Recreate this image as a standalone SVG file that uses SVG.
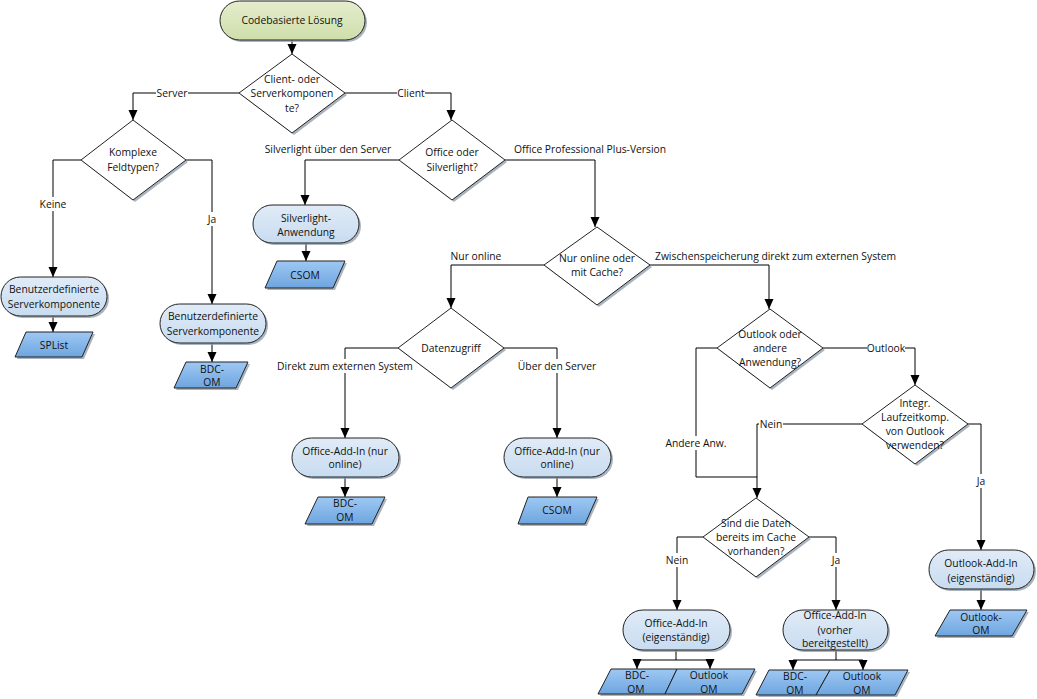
<svg xmlns="http://www.w3.org/2000/svg" width="1037" height="699" viewBox="0 0 1037 699">
<defs>
<linearGradient id="gGreen" x1="0" y1="0" x2="0" y2="1"><stop offset="0" stop-color="#e4edcd"/><stop offset="1" stop-color="#cfdeaa"/></linearGradient>
<linearGradient id="gBox" x1="0" y1="0" x2="0" y2="1"><stop offset="0" stop-color="#e0ebf7"/><stop offset="1" stop-color="#c8dcf0"/></linearGradient>
<linearGradient id="gPara" x1="0" y1="0" x2="0" y2="1"><stop offset="0" stop-color="#9ec8f3"/><stop offset="1" stop-color="#6ea5df"/></linearGradient>
<marker id="ah" viewBox="0 0 10 10" refX="10" refY="5" markerWidth="10" markerHeight="10" markerUnits="userSpaceOnUse" orient="auto"><path d="M0,0.5 L10,5 L0,9.5 z" fill="#000"/></marker>
</defs>
<style>
text{font-family:"Open Sans","Noto Sans","DejaVu Sans",sans-serif;font-size:10.3px;fill:#111;text-anchor:middle}
.st{text-anchor:start}
.bg{fill:#fff}
.c{fill:none;stroke:#000;stroke-width:1}
.ca{fill:none;stroke:#000;stroke-width:1;marker-end:url(#ah)}
.sh{fill:#8d9ba8;opacity:0.75}
.term{fill:url(#gGreen);stroke:#222;stroke-width:1}
.box{fill:url(#gBox);stroke:#222;stroke-width:1}
.para{fill:url(#gPara);stroke:#222;stroke-width:1}
.dia{fill:#fff;stroke:#222;stroke-width:1}
</style>
<rect width="1037" height="699" fill="#fff"/>

<g id="connectors">
<path class="ca" d="M292,40 V54"/>
<path class="ca" d="M239,93 H133 V120"/>
<path class="ca" d="M345,93 H451 V120"/>
<path class="ca" d="M81,160 H53 V277"/>
<path class="ca" d="M186,160 H212 V304"/>
<path class="ca" d="M53,316 V332"/>
<path class="ca" d="M212,343 V362"/>
<path class="ca" d="M399,160 H305 V205"/>
<path class="ca" d="M505,160 H595 V227"/>
<path class="ca" d="M306,243 V261"/>
<path class="ca" d="M544,265 H451 V308"/>
<path class="ca" d="M650,265 H769 V309"/>
<path class="ca" d="M398,348 H345 V438"/>
<path class="ca" d="M504,348 H557 V438"/>
<path class="ca" d="M345,477 V497"/>
<path class="ca" d="M557,477 V497"/>
<path class="ca" d="M823,348 H915 V385"/>
<path class="c" d="M717,348 H696 V477 H757"/>
<path class="ca" d="M862,424 H757 V498"/>
<path class="ca" d="M968,424 H981 V550"/>
<path class="ca" d="M703,537 H677 V610"/>
<path class="ca" d="M809,537 H836 V610"/>
<path class="c" d="M676,650 V660 M637,660 H710"/>
<path class="ca" d="M637,660 V669"/>
<path class="ca" d="M710,660 V669"/>
<path class="c" d="M836,650 V660 M793,660 H863"/>
<path class="ca" d="M793,660 V670"/>
<path class="ca" d="M863,660 V670"/>
<path class="ca" d="M981,589 V610"/>
<rect class="bg" x="156" y="86" width="32" height="14"/>
<text x="172" y="97">Server</text>
<rect class="bg" x="397" y="86" width="28" height="14"/>
<text x="411" y="97">Client</text>
<rect class="bg" x="39" y="197" width="28" height="14"/>
<text x="53" y="208">Keine</text>
<rect class="bg" x="206" y="212" width="12" height="14"/>
<text x="212" y="223">Ja</text>
<text x="328" y="153">Silverlight über den Server</text>
<text x="590" y="153">Office Professional Plus-Version</text>
<text x="476" y="260">Nur online</text>
<text class="st" x="655" y="260">Zwischenspeicherung direkt zum externen System</text>
<rect class="bg" x="278" y="359" width="134" height="14"/>
<text x="345" y="370">Direkt zum externen System</text>
<rect class="bg" x="518" y="359" width="78" height="14"/>
<text x="557" y="370">Über den Server</text>
<rect class="bg" x="867" y="341" width="38" height="14"/>
<text x="886" y="352">Outlook</text>
<rect class="bg" x="666" y="436" width="60" height="14"/>
<text x="696" y="447">Andere Anw.</text>
<rect class="bg" x="759" y="417" width="24" height="14"/>
<text x="771" y="428">Nein</text>
<rect class="bg" x="975" y="474" width="12" height="14"/>
<text x="981" y="485">Ja</text>
<rect class="bg" x="665" y="553" width="24" height="14"/>
<text x="677" y="564">Nein</text>
<rect class="bg" x="830" y="553" width="12" height="14"/>
<text x="836" y="564">Ja</text>
</g>

<g id="start">
<rect class="sh" x="222" y="3" width="145" height="39" rx="19.5"/>
<rect class="term" x="220" y="1" width="145" height="39" rx="19.5"/>
<text x="292" y="24">Codebasierte Lösung</text>
</g>

<g id="d-client-server">
<polygon class="sh" points="294,56 347,95 294,135 241,95"/>
<polygon class="dia" points="292,54 345,93 292,133 239,93"/>
<text x="292" y="83">Client- oder</text>
<text x="292" y="97">Serverkomponen</text>
<text x="292" y="112">te?</text>
</g>

<g id="d-komplexe">
<polygon class="sh" points="135,122 188,162 135,202 83,162"/>
<polygon class="dia" points="133,120 186,160 133,200 81,160"/>
<text x="133" y="156">Komplexe</text>
<text x="133" y="171">Feldtypen?</text>
</g>

<g id="box-benutzer1">
<rect class="sh" x="3" y="279" width="106" height="39" rx="19.5"/>
<rect class="box" x="1" y="277" width="106" height="39" rx="19.5"/>
<text x="54" y="293">Benutzerdefinierte</text>
<text x="54" y="308">Serverkomponente</text>
</g>

<g id="p-splist">
<polygon class="sh" points="28,334 95,334 84,359 17,359"/>
<polygon class="para" points="26,332 93,332 82,357 15,357"/>
<text x="54" y="349">SPList</text>
</g>

<g id="box-benutzer2">
<rect class="sh" x="162" y="306" width="106" height="39" rx="19.5"/>
<rect class="box" x="160" y="304" width="106" height="39" rx="19.5"/>
<text x="213" y="320">Benutzerdefinierte</text>
<text x="213" y="335">Serverkomponente</text>
</g>

<g id="p-bdc1">
<polygon class="sh" points="188,364 250,364 238,390 176,390"/>
<polygon class="para" points="186,362 248,362 236,388 174,388"/>
<text x="212" y="373">BDC-</text>
<text x="212" y="386">OM</text>
</g>

<g id="d-office-silverlight">
<polygon class="sh" points="454,122 507,162 454,202 401,162"/>
<polygon class="dia" points="452,120 505,160 452,200 399,160"/>
<text x="452" y="156">Office oder</text>
<text x="452" y="171">Silverlight?</text>
</g>

<g id="box-silverlight">
<rect class="sh" x="255" y="207" width="106" height="38" rx="19"/>
<rect class="box" x="253" y="205" width="106" height="38" rx="19"/>
<text x="306" y="222">Silverlight-</text>
<text x="306" y="236">Anwendung</text>
</g>

<g id="p-csom1">
<polygon class="sh" points="279,263 347,263 335,290 267,290"/>
<polygon class="para" points="277,261 345,261 333,288 265,288"/>
<text x="305" y="279">CSOM</text>
</g>

<g id="d-online-cache">
<polygon class="sh" points="599,229 652,267 599,307 546,267"/>
<polygon class="dia" points="597,227 650,265 597,305 544,265"/>
<text x="597" y="262">Nur online oder</text>
<text x="597" y="276">mit Cache?</text>
</g>

<g id="d-datenzugriff">
<polygon class="sh" points="453,310 506,350 453,390 400,350"/>
<polygon class="dia" points="451,308 504,348 451,388 398,348"/>
<text x="451" y="352">Datenzugriff</text>
</g>

<g id="box-online1">
<rect class="sh" x="294" y="440" width="107" height="39" rx="19.5"/>
<rect class="box" x="292" y="438" width="107" height="39" rx="19.5"/>
<text x="345" y="455">Office-Add-In (nur</text>
<text x="345" y="468">online)</text>
</g>

<g id="p-bdc2">
<polygon class="sh" points="320,499 387,499 374,526 307,526"/>
<polygon class="para" points="318,497 385,497 372,524 305,524"/>
<text x="345" y="507">BDC-</text>
<text x="345" y="521">OM</text>
</g>

<g id="box-online2">
<rect class="sh" x="506" y="440" width="107" height="39" rx="19.5"/>
<rect class="box" x="504" y="438" width="107" height="39" rx="19.5"/>
<text x="557" y="455">Office-Add-In (nur</text>
<text x="557" y="468">online)</text>
</g>

<g id="p-csom2">
<polygon class="sh" points="530,499 599,499 587,526 520,526"/>
<polygon class="para" points="528,497 597,497 585,524 518,524"/>
<text x="557" y="514">CSOM</text>
</g>

<g id="d-outlook-andere">
<polygon class="sh" points="772,311 825,350 772,390 719,350"/>
<polygon class="dia" points="770,309 823,348 770,388 717,348"/>
<text x="770" y="338">Outlook oder</text>
<text x="770" y="352">andere</text>
<text x="770" y="366">Anwendung?</text>
</g>

<g id="d-integr">
<polygon class="sh" points="917,387 970,426 917,466 864,426"/>
<polygon class="dia" points="915,385 968,424 915,464 862,424"/>
<text x="915" y="407">Integr.</text>
<text x="915" y="421">Laufzeitkomp.</text>
<text x="915" y="435">von Outlook</text>
<text x="915" y="449">verwenden?</text>
</g>

<g id="d-cache">
<polygon class="sh" points="758,500 811,539 758,579 705,539"/>
<polygon class="dia" points="756,498 809,537 756,577 703,537"/>
<text x="756" y="527">Sind die Daten</text>
<text x="756" y="541">bereits im Cache</text>
<text x="756" y="555">vorhanden?</text>
</g>

<g id="box-eigen">
<rect class="sh" x="625" y="612" width="107" height="40" rx="20"/>
<rect class="box" x="623" y="610" width="107" height="40" rx="20"/>
<text x="676" y="627">Office-Add-In</text>
<text x="676" y="641">(eigenständig)</text>
</g>

<g id="p-bdc3">
<polygon class="sh" points="613,671 679,671 667,696 600,696"/>
<polygon class="para" points="611,669 677,669 665,694 598,694"/>
<text x="637" y="679">BDC-</text>
<text x="636" y="693">OM</text>
</g>

<g id="p-outlook1">
<polygon class="sh" points="679,671 757,671 744,696 667,696"/>
<polygon class="para" points="677,669 755,669 742,694 665,694"/>
<text x="709" y="679">Outlook</text>
<text x="709" y="693">OM</text>
</g>

<g id="box-vorher">
<rect class="sh" x="785" y="612" width="105" height="40" rx="20"/>
<rect class="box" x="783" y="610" width="105" height="40" rx="20"/>
<text x="835" y="619">Office-Add-In</text>
<text x="835" y="634">(vorher</text>
<text x="835" y="647">bereitgestellt)</text>
</g>

<g id="p-bdc4">
<polygon class="sh" points="771,672 832,672 818,697 758,697"/>
<polygon class="para" points="769,670 830,670 816,695 756,695"/>
<text x="795" y="680">BDC-</text>
<text x="795" y="694">OM</text>
</g>

<g id="p-outlook2">
<polygon class="sh" points="832,672 910,672 897,697 818,697"/>
<polygon class="para" points="830,670 908,670 895,695 816,695"/>
<text x="862" y="680">Outlook</text>
<text x="862" y="694">OM</text>
</g>

<g id="box-outlook-addin">
<rect class="sh" x="931" y="552" width="105" height="39" rx="19.5"/>
<rect class="box" x="929" y="550" width="105" height="39" rx="19.5"/>
<text x="981" y="567">Outlook-Add-In</text>
<text x="981" y="582">(eigenständig)</text>
</g>

<g id="p-outlook-om">
<polygon class="sh" points="952,612 1029,612 1014,638 937,638"/>
<polygon class="para" points="950,610 1027,610 1012,636 935,636"/>
<text x="981" y="621">Outlook-</text>
<text x="981" y="634">OM</text>
</g>
</svg>
